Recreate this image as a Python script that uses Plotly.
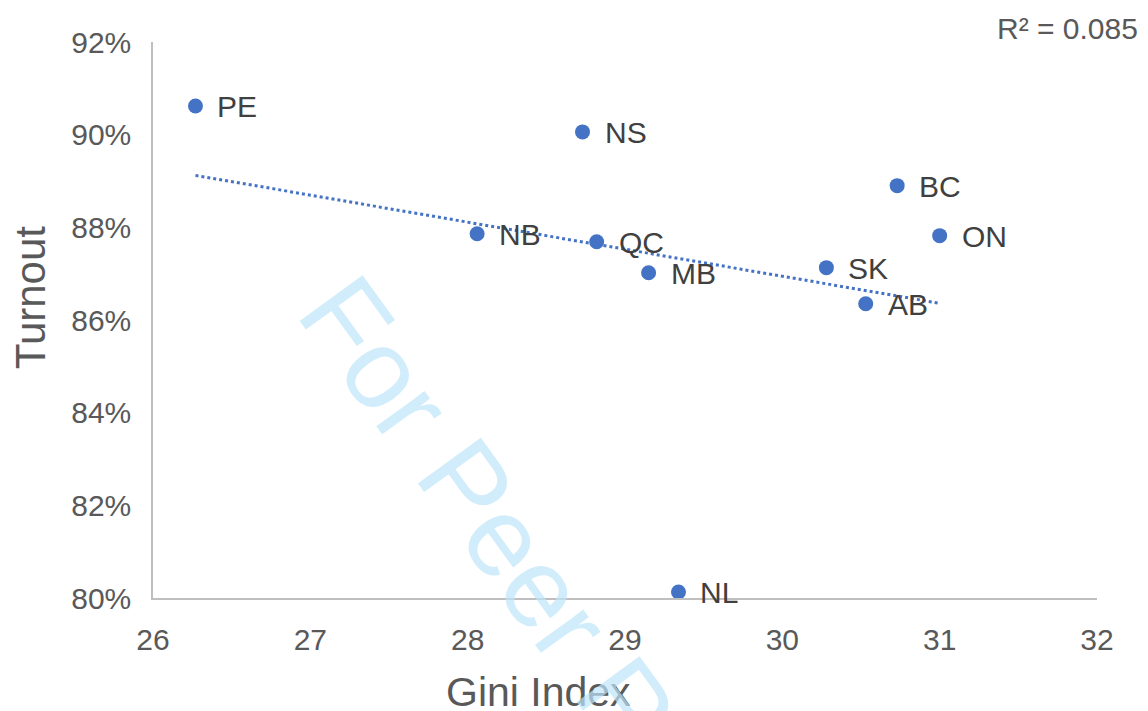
import numpy as np
import plotly.graph_objects as go

# Provinces: Gini index vs. voter turnout (%)
provinces = ['PE', 'NS', 'BC', 'ON', 'NB', 'QC', 'MB', 'SK', 'AB', 'NL']
gini = [26.27, 28.73, 30.73, 31.00, 28.06, 28.82, 29.15, 30.28, 30.53, 29.34]
turnout = [90.62, 90.06, 88.90, 87.82, 87.86, 87.69, 87.02, 87.13, 86.35, 80.13]

x_ticks = [26, 27, 28, 29, 30, 31, 32]
y_ticks = [80, 82, 84, 86, 88, 90, 92]
y_tick_labels = ['80%', '82%', '84%', '86%', '88%', '90%', '92%']
r2_label = 'R² = 0.085'

BLUE = '#4472C4'
GREY = '#595959'
FONT = 'Liberation Sans, Arial, sans-serif'

# linear trendline (as Excel does)
slope, intercept = np.polyfit(gini, turnout, 1)
trend_x = [min(gini), max(gini)]
trend_y = [slope * v + intercept for v in trend_x]

fig = go.Figure()

fig.add_trace(go.Scatter(
    x=trend_x, y=trend_y,
    mode='lines',
    line=dict(color=BLUE, width=3, dash='dot'),
    hoverinfo='skip',
    showlegend=False
))

fig.add_trace(go.Scatter(
    x=gini, y=turnout,
    mode='markers',
    marker=dict(size=15, color=BLUE),
    showlegend=False
))

# data labels, right of each point
labels = [dict(x=gx, y=ty, text=p, xref='x', yref='y', showarrow=False,
               xanchor='left', yanchor='middle', xshift=20, yshift=-1,
               font=dict(size=30, color='#404040'))
          for p, gx, ty in zip(provinces, gini, turnout)]

fig.update_layout(
    width=1140, height=703,
    margin=dict(l=145, r=51, t=34, b=113),
    plot_bgcolor='white',
    paper_bgcolor='white',
    font=dict(family=FONT, color=GREY, size=30),
    xaxis=dict(
        range=[26, 32], tickvals=x_ticks,
        showgrid=False, zeroline=False,
        showline=True, linecolor='#BFBFBF', linewidth=1.5,
        ticks='', ticklabelstandoff=14,
        tickfont=dict(size=30, color=GREY)
    ),
    yaxis=dict(
        range=[80, 92], tickvals=y_ticks, ticktext=y_tick_labels,
        showgrid=False, zeroline=False,
        showline=True, linecolor='#BFBFBF', linewidth=1.5,
        ticks='', ticklabelstandoff=14,
        tickfont=dict(size=30, color=GREY)
    ),
    annotations=labels + [
        dict(text='Turnout', xref='paper', yref='paper', x=-0.1303, y=0.541,
             textangle=-90, showarrow=False, xanchor='center', yanchor='middle',
             font=dict(size=42, color=GREY)),
        dict(text='Gini Index', xref='paper', yref='paper', x=0.408, y=-0.169,
             showarrow=False, xanchor='center', yanchor='middle',
             font=dict(size=41, color=GREY)),
        dict(text=r2_label, xref='paper', yref='paper', x=1.0456, y=1.025,
             showarrow=False, xanchor='right', yanchor='middle',
             font=dict(size=30, color=GREY)),
        dict(text='For Peer Review', xref='paper', yref='paper', x=0.445, y=-0.06,
             textangle=54, showarrow=False, xanchor='center', yanchor='middle',
             font=dict(size=113, color='rgba(190,230,250,0.7)')),
    ]
)

fig.write_html('out.html')
